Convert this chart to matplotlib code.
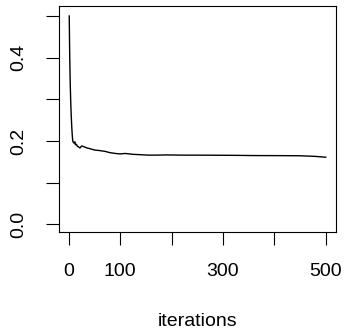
import matplotlib
matplotlib.use("Agg")
import matplotlib.pyplot as plt

plt.rcParams['font.family'] = ['Liberation Sans', 'DejaVu Sans']

iteraciones = [1, 2, 3, 4, 5, 6, 7, 8, 10, 12, 13, 15, 17, 19, 22, 25, 28,
               32, 36, 40, 45, 52, 60, 71, 80, 91, 100, 110, 125, 140,
               155, 168, 190, 220, 246, 280, 324, 360, 411, 450, 480, 500]
valores = [0.500, 0.400, 0.335, 0.290, 0.258, 0.232, 0.212, 0.199, 0.195,
           0.198, 0.191, 0.192, 0.187, 0.186, 0.183, 0.188, 0.187,
           0.185, 0.183, 0.182, 0.180, 0.178, 0.177, 0.175, 0.172, 0.170,
           0.169, 0.170, 0.168, 0.167, 0.166, 0.166, 0.1665, 0.166, 0.166,
           0.1658, 0.1655, 0.165, 0.1648, 0.1645, 0.163, 0.161]

xticks = [0, 100, 200, 300, 400, 500]
xlabels = ['0', '100', '', '300', '', '500']
yticks = [0.0, 0.1, 0.2, 0.3, 0.4, 0.5]
ylabels = ['0.0', '', '0.2', '', '0.4', '']

fig = plt.figure(figsize=(3.46, 3.30), dpi=100)
ax = fig.add_axes([59 / 346, 1 - 232 / 330, 277 / 346, 226 / 330])

ax.plot(iteraciones, valores, color='black', linewidth=1.0)

ax.set_xlim(-18.9, 520)
ax.set_ylim(-0.0185, 0.524)

ax.set_xticks(xticks)
ax.set_xticklabels(xlabels, fontsize=14)
ax.set_yticks(yticks)
ax.set_yticklabels(ylabels, fontsize=14, rotation=90, va='center')
ax.tick_params(axis='x', length=9, width=0.8, pad=13)
ax.tick_params(axis='y', length=9.5, width=0.8, pad=13)
for s in ax.spines.values():
    s.set_linewidth(0.8)

fig.text(197.5 / 346, 4 / 330, 'iterations', ha='center', va='baseline', fontsize=14)

fig.savefig('out.png', dpi=100)
